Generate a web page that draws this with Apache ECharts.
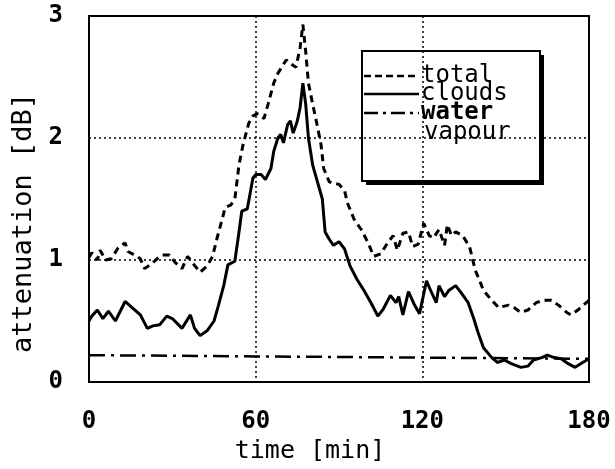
<!DOCTYPE html>
<html>
<head>
<meta charset="utf-8">
<script src="https://cdn.jsdelivr.net/npm/echarts@6/dist/echarts.min.js"></script>
<style>
  html, body { margin: 0; padding: 0; background: #fff; }
  #chart { width: 615px; height: 469px; }
</style>
</head>
<body>
<div id="chart"></div>
<script>
// time [min] and attenuation [dB]
var totalTime = [0, 1, 3, 4, 6, 8, 10.5, 13, 14, 16.5, 18.5, 20, 22, 24.5, 26.5, 29, 31, 33.5, 35.5, 37.5,
  40, 42.5, 44.5, 46, 48, 49, 51, 52.5, 54, 55.5, 57.5, 59, 60.5, 63, 64.5, 66.5, 68, 71, 72.5, 74.5,
  76, 77, 78, 79, 80.5, 82, 83.5, 84.5, 86.5, 88, 90, 92, 93, 95.5, 98, 100.5, 102.5, 105, 107.5, 109.5,
  111, 113, 115, 116.5, 118.5, 120.5, 122.5, 124, 126, 128, 129, 130.5, 132, 134.5, 137, 139, 141, 142, 145, 147.5,
  151, 153, 155.5, 158, 161, 163.5, 166.5, 169, 172, 173.5, 176, 178, 180];
var totalVal = [1.02, 1.06, 1.0, 1.08, 1.0, 1.01, 1.1, 1.14, 1.07, 1.04, 1.01, 0.93, 0.96, 1.01, 1.04, 1.04, 0.98, 0.93, 1.03, 0.97,
  0.9, 0.95, 1.03, 1.17, 1.34, 1.43, 1.45, 1.5, 1.78, 1.95, 2.12, 2.18, 2.2, 2.16, 2.28, 2.45, 2.53, 2.64, 2.61, 2.58,
  2.74, 2.93, 2.71, 2.45, 2.28, 2.12, 1.95, 1.75, 1.64, 1.63, 1.62, 1.57, 1.47, 1.33, 1.25, 1.14, 1.03, 1.05, 1.14, 1.2,
  1.08, 1.22, 1.23, 1.11, 1.13, 1.3, 1.2, 1.18, 1.25, 1.12, 1.29, 1.2, 1.23, 1.2, 1.11, 0.92, 0.81, 0.75, 0.67, 0.61,
  0.63, 0.61, 0.57, 0.59, 0.65, 0.67, 0.67, 0.63, 0.57, 0.55, 0.59, 0.63, 0.67];

var cloudTime = [0, 1, 3, 5, 7, 9.5, 13, 15.5, 18.5, 21, 23, 25.5, 28, 30, 33.5, 36.5, 38, 40, 42.5, 45,
  46.5, 48.5, 50, 52.5, 54, 55, 57, 59, 60, 62, 63.5, 65.5, 66.5, 68, 69, 70, 71.5, 72.5, 73.5, 75,
  76, 77, 78, 79, 80.5, 82.5, 84, 85, 86.5, 88, 90, 92, 94, 96.5, 99, 101.5, 104, 106, 108.5, 110.5,
  111.5, 113, 115, 117, 119, 121.5, 123, 125, 126, 128, 129.5, 132, 134, 136.5, 138.5, 140, 142, 145, 147, 149.5,
  152, 155.5, 158, 160, 163, 165, 167.5, 170, 172.5, 175, 177, 180];
var cloudVal = [0.5, 0.54, 0.59, 0.52, 0.58, 0.5, 0.66, 0.61, 0.55, 0.44, 0.46, 0.47, 0.54, 0.52, 0.44, 0.55, 0.44, 0.38, 0.42, 0.5,
  0.62, 0.79, 0.96, 0.99, 1.23, 1.4, 1.42, 1.67, 1.7, 1.7, 1.66, 1.75, 1.89, 2.0, 2.03, 1.96, 2.11, 2.14, 2.04, 2.14,
  2.25, 2.45, 2.28, 2.0, 1.78, 1.62, 1.5, 1.23, 1.17, 1.12, 1.15, 1.09, 0.95, 0.84, 0.75, 0.65, 0.54, 0.6, 0.71, 0.65,
  0.7, 0.55, 0.74, 0.64, 0.56, 0.83, 0.75, 0.65, 0.79, 0.7, 0.75, 0.79, 0.73, 0.65, 0.52, 0.41, 0.28, 0.2, 0.16, 0.18,
  0.15, 0.12, 0.13, 0.18, 0.2, 0.22, 0.2, 0.19, 0.15, 0.12, 0.15, 0.19];

var vapourTime = [0, 60, 120, 180];
var vapourVal = [0.22, 0.21, 0.2, 0.19];

var xTicks = [0, 60, 120, 180];
var yTicks = [0, 1, 2, 3];

function pairs(t, v) {
  var out = [];
  for (var i = 0; i < t.length; i++) out.push([t[i], v[i]]);
  return out;
}

var monoFont = '"DejaVu Sans Mono", monospace';
var chart = echarts.init(document.getElementById('chart'));

chart.setOption({
  animation: false,
  backgroundColor: '#fff',
  grid: {
    left: 89, right: 26, top: 16, bottom: 87,
    show: true,
    borderColor: '#000',
    borderWidth: 2
  },
  xAxis: {
    type: 'value',
    min: xTicks[0],
    max: xTicks[xTicks.length - 1],
    interval: 60,
    name: 'time [min]',
    nameLocation: 'middle',
    nameGap: 55,
    nameTextStyle: { color: '#000', fontFamily: monoFont, fontSize: 25, padding: [0, 58, 0, 0] },
    axisLine: { show: false },
    axisTick: { show: false },
    axisLabel: { color: '#000', fontFamily: monoFont, fontWeight: 'bold', fontSize: 24, margin: 28 },
    splitLine: { show: true, lineStyle: { color: '#000', type: [2, 3], width: 1.5 } }
  },
  yAxis: {
    type: 'value',
    min: yTicks[0],
    max: yTicks[yTicks.length - 1],
    interval: 1,
    name: 'attenuation [dB]',
    nameLocation: 'middle',
    nameGap: 50,
    nameTextStyle: { color: '#000', fontFamily: monoFont, fontSize: 27, padding: [0, 48, 0, 0] },
    axisLine: { show: false },
    axisTick: { show: false },
    axisLabel: { color: '#000', fontFamily: monoFont, fontWeight: 'bold', fontSize: 24, margin: 26 },
    splitLine: { show: true, lineStyle: { color: '#000', type: [2, 3], width: 1.5 } }
  },
  series: [
    {
      name: 'total',
      type: 'line',
      data: pairs(totalTime, totalVal),
      showSymbol: false,
      lineStyle: { color: '#000', width: 3, type: [7, 5] }
    },
    {
      name: 'clouds',
      type: 'line',
      data: pairs(cloudTime, cloudVal),
      showSymbol: false,
      lineStyle: { color: '#000', width: 3 }
    },
    {
      name: 'water vapour',
      type: 'line',
      data: pairs(vapourTime, vapourVal),
      showSymbol: false,
      lineStyle: { color: '#000', width: 2.5, type: [16, 6, 3, 6] }
    }
  ],
  // legend box drawn by hand: the vapour entry runs over two lines
  graphic: [{
    type: 'group',
    left: 361,
    top: 50,
    z: 100,
    children: [
      { type: 'rect', shape: { x: 4, y: 4, width: 178, height: 130 }, style: { fill: '#000' } },
      { type: 'rect', shape: { x: 0, y: 0, width: 178, height: 130 },
        style: { fill: '#fff', stroke: '#000', lineWidth: 2 } },
      { type: 'line', shape: { x1: 2, y1: 25, x2: 57, y2: 25 }, style: { stroke: '#000', lineWidth: 2.5, lineDash: [7, 4] } },
      { type: 'line', shape: { x1: 2, y1: 43, x2: 57, y2: 43 }, style: { stroke: '#000', lineWidth: 2.5 } },
      { type: 'line', shape: { x1: 2, y1: 62, x2: 57, y2: 62 }, style: { stroke: '#000', lineWidth: 2.5, lineDash: [14, 5, 3, 5] } },
      { type: 'text', x: 59, y: 25, style: { text: 'total', font: '24px ' + monoFont, fill: '#000', verticalAlign: 'middle' } },
      { type: 'text', x: 59, y: 43, style: { text: 'clouds', font: '24px ' + monoFont, fill: '#000', verticalAlign: 'middle' } },
      { type: 'text', x: 59, y: 62, style: { text: 'water', font: 'bold 24px ' + monoFont, fill: '#000', verticalAlign: 'middle' } },
      { type: 'text', x: 62, y: 82, style: { text: 'vapour', font: '24px ' + monoFont, fill: '#000', verticalAlign: 'middle' } }
    ]
  }]
});
</script>
</body>
</html>
